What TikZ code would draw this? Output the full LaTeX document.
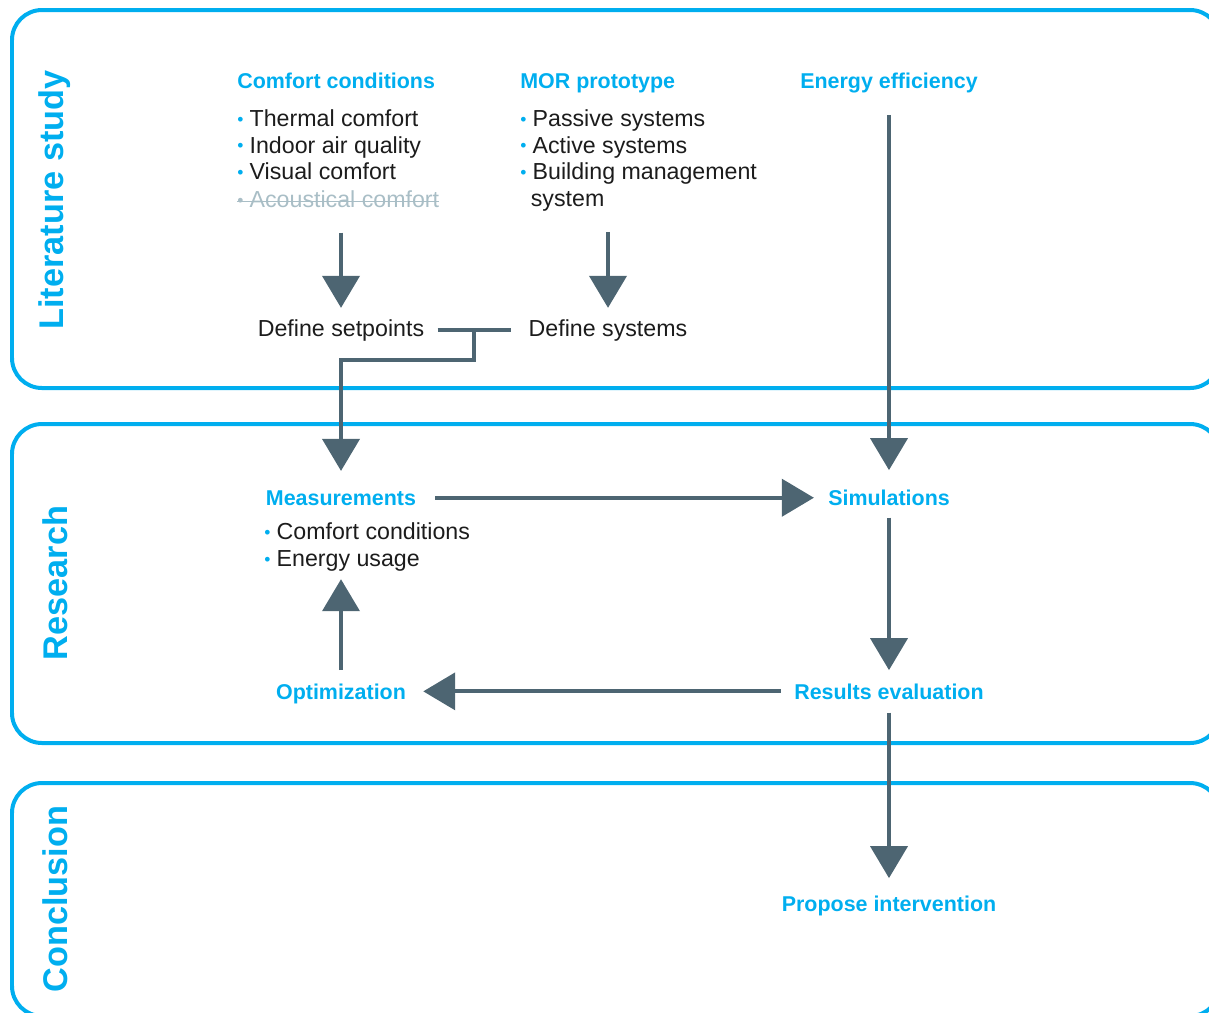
\documentclass[tikz,border=0pt]{standalone}
\usepackage{fontspec}
\setmainfont{Liberation Sans}
\usetikzlibrary{arrows.meta, positioning}

\definecolor{skyblue}{HTML}{00AEEF}
\definecolor{slate}{HTML}{4D6572}
\definecolor{strikegray}{HTML}{A9BEC6}
\definecolor{bodytext}{HTML}{1C1C1C}

\newcommand{\bul}[1][skyblue]{\makebox[7pt][l]{\raisebox{0.6pt}{\textcolor{#1}{\fontsize{10}{10}\selectfont\textbullet}}}}

\tikzstyle{panel} = [draw=skyblue, line width=0.08cm, rounded corners=0.6cm]
\tikzstyle{phase} = [rotate=90, text=skyblue, font=\fontsize{19.5}{22}\selectfont\bfseries]
\tikzstyle{heading} = [inner sep=0pt, anchor=base, text=skyblue, font=\fontsize{12.2}{14}\selectfont\bfseries]
\tikzstyle{listing} = [inner sep=0pt, text=bodytext, align=left, font=\fontsize{13.2}{15.3}\selectfont]
\tikzstyle{link} = [draw=slate, line width=0.08cm]
\tikzstyle{arrow} = [link, -{Triangle[width=0.74cm, length=0.64cm]}]

\begin{document}
\begin{tikzpicture}[x=0.02cm, y=-0.02cm]
    \useasboundingbox (0,0) rectangle (1209,1012);
    \clip (0,0) rectangle (1209,1012);

    % phases
    \draw [panel] (12,10) rectangle (1220,388);
    \draw [panel] (12,424) rectangle (1220,743);
    \draw [panel] (12,783) rectangle (1220,1016);
    \node (lit) [phase] at (55,200) {Literature study};
    \node (res) [phase] at (55,583) {Research};
    \node (con) [phase] at (55,899) {Conclusion};

    % literature study
    \node (comfort-head) [heading, anchor=base west] at (237,88) {Comfort conditions};
    \node (comfort-list) [listing, anchor=north west] at (237,109) {\bul Thermal comfort\\ \bul Indoor air quality\\ \bul Visual comfort};
    \node (acoustic) [listing, anchor=north west, text=strikegray] at (237,190) {\bul[strikegray]Acoustical comfort};
    \draw [strikegray, line width=0.03cm] ([yshift=-0.05cm]acoustic.west) -- ([yshift=-0.05cm]acoustic.east);
    \node (mor-head) [heading, anchor=base west] at (520,88) {MOR prototype};
    \node (mor-list) [listing, anchor=north west] at (520,109) {\bul Passive systems\\ \bul Active systems\\ \bul Building management\\ \hspace*{6pt}system};
    \node (energy-head) [heading] at (889,88) {Energy efficiency};
    \node (define-setpoints) [listing] at (341,330) {Define setpoints};
    \node (define-systems) [listing] at (608,330) {Define systems};
    \coordinate (split) at (474,330);

    % research
    \node (measurements) [heading] at (341,505) {Measurements};
    \node (meas-list) [listing, anchor=north west] at (264,522) {\bul Comfort conditions\\ \bul Energy usage};
    \node (simulations) [heading] at (889,505) {Simulations};
    \node (results) [heading] at (889,699) {Results evaluation};
    \node (optimization) [heading] at (341,699) {Optimization};

    % conclusion
    \node (propose) [heading] at (889,911) {Propose intervention};

    \draw [arrow, shorten <=0.5cm, shorten >=0.22cm] (acoustic.south -| define-setpoints) -- (define-setpoints);
    \draw [arrow, shorten <=0.4cm, shorten >=0.22cm] (mor-list.south -| define-systems) -- (define-systems);
    \draw [link] ([xshift=0.26cm]define-setpoints.east) -- ([xshift=-0.34cm]define-systems.west);
    \draw [arrow, shorten >=0.38cm] (split) -- ++(0,30) -| (measurements);
    \draw [arrow, shorten <=0.44cm, shorten >=0.38cm] (energy-head) -- (simulations);
    \draw [arrow, shorten <=0.38cm, shorten >=0.28cm] (measurements.east) -- (measurements.east -| simulations.west);
    \draw [arrow, shorten <=0.24cm, shorten >=0.26cm] (simulations) -- (results);
    \draw [arrow, shorten <=0.26cm, shorten >=0.34cm] (results.west) -- (results.west -| optimization.east);
    \draw [arrow, shorten <=0.26cm, shorten >=0.16cm] (optimization) -- (optimization |- meas-list.south);
    \draw [arrow, shorten <=0.26cm, shorten >=0.34cm] (results) -- (propose);
\end{tikzpicture}
\end{document}
